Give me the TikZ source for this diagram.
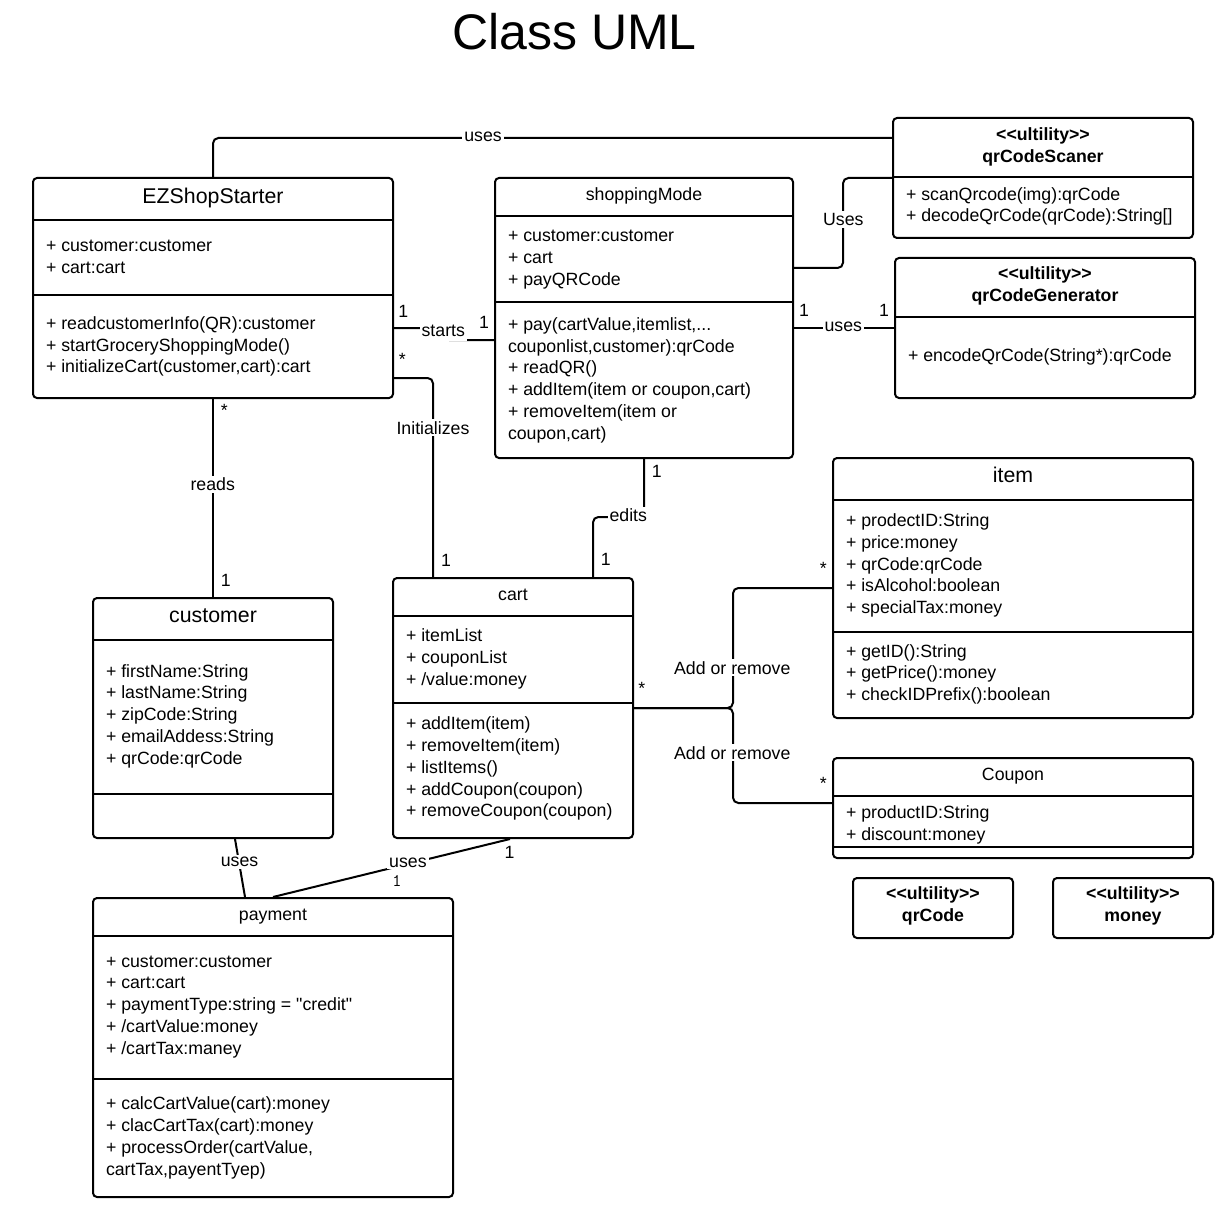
\documentclass[tikz,border=0pt]{standalone}
\usepackage{fontspec}
\setmainfont{Liberation Sans}
\newfontfamily\quotefont{Liberation Sans}
\usetikzlibrary{fit}

\newcommand{\bodyfont}{\fontsize{13.3}{16.3}\selectfont}
\newcommand{\bigfont}{\fontsize{16}{19}\selectfont}

\begin{document}
\begin{tikzpicture}[x=0.75pt,y=-0.75pt,line width=1.5pt,font=\bodyfont]
  \tikzstyle{classbox}=[draw,rounded corners=3pt,inner sep=0pt]
  \tikzstyle{ctitle}=[anchor=base,inner sep=0pt]
  \tikzstyle{members}=[anchor=base west,align=left,inner sep=0pt]
  \tikzstyle{stereo}=[anchor=base,align=center,inner sep=0pt,font=\bodyfont\bfseries]
  \tikzstyle{conlabel}=[anchor=base,fill=white,inner sep=1.5pt]
  \tikzstyle{mult}=[inner sep=0pt]
  \tikzstyle{conline}=[draw,rounded corners=4pt]

  \useasboundingbox (0,0) rectangle (1226,1219);

  \node[ctitle,font=\fontsize{37.5}{45}\selectfont] (title) at (574.5,50) {Class UML};

  % classes (members placed at the baseline of their last line)
  \node[classbox,fit={(33,178) (393,398)}] (ez) {};
  \node[ctitle,font=\bigfont] (ez-t) at (213,204) {EZShopStarter};
  \draw (ez.west |- 0,220) -- (ez.east |- 0,220);
  \node[members] (ez-a) at (45,273.2) {+ customer:customer\\+ cart:cart};
  \draw (ez.west |- 0,295) -- (ez.east |- 0,295);
  \node[members] (ez-m) at (45,372.9) {+ readcustomerInfo(QR):customer\\+ startGroceryShoppingMode()\\+ initializeCart(customer,cart):cart};

  \node[classbox,fit={(495,178) (793,458)}] (sm) {};
  \node[ctitle] (sm-t) at (644,201) {shoppingMode};
  \draw (sm.west |- 0,216) -- (sm.east |- 0,216);
  \node[members] (sm-a) at (507,285.4) {+ customer:customer\\+ cart\\+ payQRCode};
  \draw (sm.west |- 0,302) -- (sm.east |- 0,302);
  \node[members] (sm-m) at (507,439) {+ pay(cartValue,itemlist,...\\couponlist,customer):qrCode\\+ readQR()\\+ addItem(item or coupon,cart)\\+ removeItem(item or\\coupon,cart)};

  \node[classbox,fit={(893,118) (1193,238)}] (scaner) {};
  \node[stereo] (scaner-t) at (1043,162.5) {<{}<ultility>{}>\\qrCodeScaner};
  \draw (scaner.west |- 0,177) -- (scaner.east |- 0,177);
  \node[members] (scaner-m) at (905,222) {+ scanQrcode(img):qrCode\\+ decodeQrCode(qrCode):String[]};

  \node[classbox,fit={(895,258) (1195,398)}] (gen) {};
  \node[stereo] (gen-t) at (1045,301.7) {<{}<ultility>{}>\\qrCodeGenerator};
  \draw (gen.west |- 0,317) -- (gen.east |- 0,317);
  \node[members] (gen-m) at (907,361) {+ encodeQrCode(String*):qrCode};

  \node[classbox,fit={(833,458) (1193,718)}] (item) {};
  \node[ctitle,font=\bigfont] (item-t) at (1013,482.3) {item};
  \draw (item.west |- 0,500) -- (item.east |- 0,500);
  \node[members] (item-a) at (845,613.5) {+ prodectID:String\\+ price:money\\+ qrCode:qrCode\\+ isAlcohol:boolean\\+ specialTax:money};
  \draw (item.west |- 0,632) -- (item.east |- 0,632);
  \node[members] (item-m) at (845,700.7) {+ getID():String\\+ getPrice():money\\+ checkIDPrefix():boolean};

  \node[classbox,fit={(833,758) (1193,858)}] (coupon) {};
  \node[ctitle] (coupon-t) at (1013,780.7) {Coupon};
  \draw (coupon.west |- 0,796) -- (coupon.east |- 0,796);
  \node[members] (coupon-a) at (845,840) {+ productID:String\\+ discount:money};
  \draw (coupon.west |- 0,847) -- (coupon.east |- 0,847);

  \node[classbox,fit={(853,878) (1013,938)}] (qrcode) {};
  \node[stereo] (qrcode-t) at (933,921.7) {<{}<ultility>{}>\\qrCode};
  \node[classbox,fit={(1053,878) (1213,938)}] (money) {};
  \node[stereo] (money-t) at (1133,921.7) {<{}<ultility>{}>\\money};

  \node[classbox,fit={(93,598) (333,838)}] (cust) {};
  \node[ctitle,font=\bigfont] (cust-t) at (213,622.7) {customer};
  \draw (cust.west |- 0,640) -- (cust.east |- 0,640);
  \node[members] (cust-a) at (105,764.1) {+ firstName:String\\+ lastName:String\\+ zipCode:String\\+ emailAddess:String\\+ qrCode:qrCode};
  \draw (cust.west |- 0,794) -- (cust.east |- 0,794);

  \node[classbox,fit={(393,578) (633,838)}] (cart) {};
  \node[ctitle] (cart-t) at (513,600.7) {cart};
  \draw (cart.west |- 0,616) -- (cart.east |- 0,616);
  \node[members] (cart-a) at (405,685.1) {+ itemList\\+ couponList\\+ /value:money};
  \draw (cart.west |- 0,703) -- (cart.east |- 0,703);
  \node[members] (cart-m) at (405,816.8) {+ addItem(item)\\+ removeItem(item)\\+ listItems()\\+ addCoupon(coupon)\\+ removeCoupon(coupon)};

  \node[classbox,fit={(93,898) (453,1197)}] (pay) {};
  \node[ctitle] (pay-t) at (273,920.7) {payment};
  \draw (pay.west |- 0,936) -- (pay.east |- 0,936);
  \node[members] (pay-a) at (105,1054.1) {+ customer:customer\\+ cart:cart\\+ paymentType:string = {\quotefont"credit"}\\+ /cartValue:money\\+ /cartTax:maney};
  \draw (pay.west |- 0,1079) -- (pay.east |- 0,1079);
  \node[members] (pay-m) at (105,1175.1) {+ calcCartValue(cart):money\\+ clacCartTax(cart):money\\+ processOrder(cartValue,\\cartTax,payentTyep)};

  % connectors
  \path[conline] (ez.north) |- (scaner.west |- 0,138);
  \path[conline] (ez.east |- 0,328) -- (444,328) -- (444,340) -- (sm.west |- 0,340);
  \path[conline] (ez.east |- 0,378) -| (cart.north -| 433,0);
  \path[conline] (ez.south) -- (cust.north);
  \path[conline] (sm.east |- 0,268) -- (843,268) -- (843,178) -- (scaner.west |- 0,178);
  \path[conline] (sm.east |- 0,328) -- (gen.west |- 0,328);
  \path[conline] (sm.south) |- (593,517) -- (cart.north -| 593,0);
  \path[conline] (cart.east) -- (733,708) |- (item.west);
  \path[conline] (cart.east) -- (733,708) |- (coupon.west |- 0,803);
  \path[conline] (cust.south -| 235,0) -- (pay.north -| 245,0);
  \path[conline] (cart.south -| 510,0) -- (pay.north -| 273,0);

  \node[conlabel] (l-uses1) at (483,141.7) {uses};
  \node[conlabel,text depth=2pt] (l-starts) at (443.3,336.7) {starts};
  \node[conlabel] (l-init) at (433,434.3) {Initializes};
  \node[conlabel] (l-reads) at (212.7,490.7) {reads};
  \node[conlabel] (l-uses2) at (843.3,225.7) {Uses};
  \node[conlabel] (l-uses3) at (843.3,331) {uses};
  \node[conlabel] (l-edits) at (628.3,521.7) {edits};
  \node[conlabel] (l-add1) at (732.3,674) {Add or remove};
  \node[conlabel] (l-add2) at (732.3,759) {Add or remove};
  \node[conlabel] (l-uses4) at (239.6,866.7) {uses};
  \node[conlabel] (l-uses5) at (407.9,867) {uses};

  % multiplicities
  \node[mult] (m1) at (403.3,311.7) {1};
  \node[mult] (m2) at (484,322.7) {1};
  \node[mult] (m3) at (402.3,359.3) {*};
  \node[mult] (m4) at (446,560.7) {1};
  \node[mult] (m5) at (224.3,410) {*};
  \node[mult] (m6) at (225.7,580) {1};
  \node[mult] (m7) at (804,310.7) {1};
  \node[mult] (m8) at (884,310.7) {1};
  \node[mult] (m9) at (656.7,471.7) {1};
  \node[mult] (m10) at (605.7,559.3) {1};
  \node[mult] (m11) at (641.7,688.3) {*};
  \node[mult] (m12) at (823.3,568.3) {*};
  \node[mult] (m13) at (823.3,783.3) {*};
  \node[mult] (m14) at (509.6,852.7) {1};
  \node[mult,font=\ttfamily\bodyfont] (m15) at (397,880.7) {1};
\end{tikzpicture}
\end{document}
